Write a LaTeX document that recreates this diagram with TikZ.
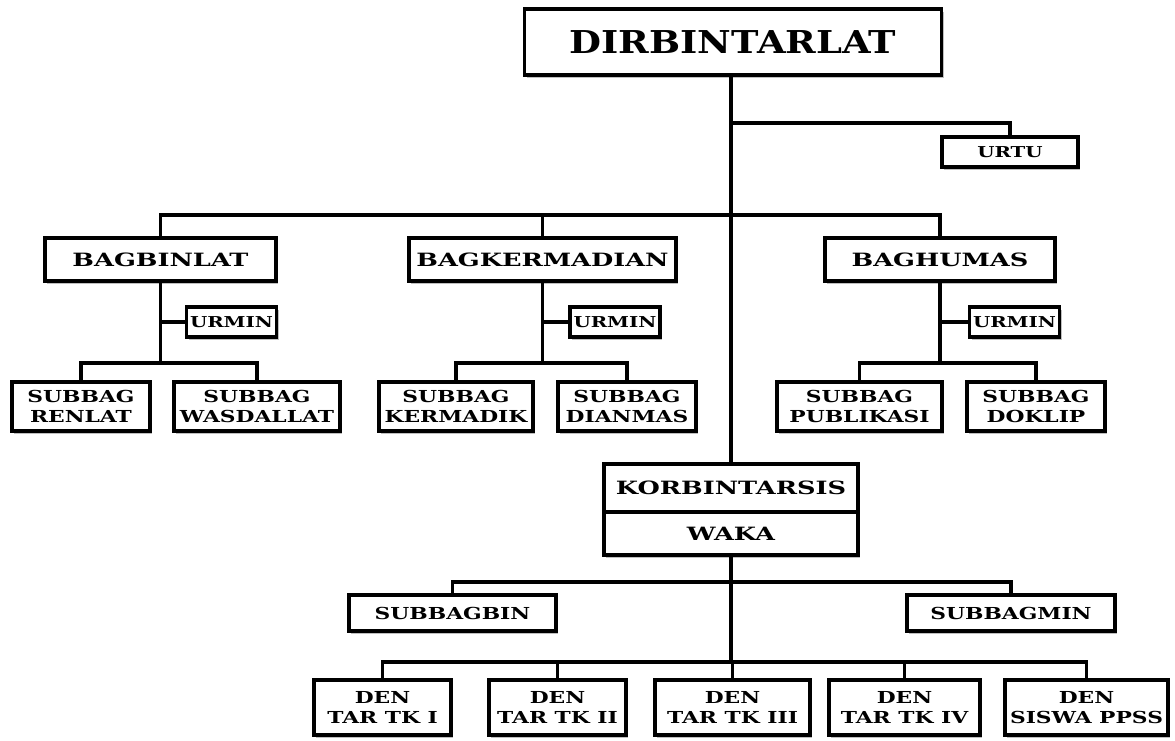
\documentclass[tikz,border=0pt]{standalone}
\usepackage{fontspec}
\setmainfont{DejaVu Serif}[FakeStretch=1.32]
\newfontfamily\widebig{DejaVu Serif}[FakeStretch=1.17]
\newfontfamily\widemid{DejaVu Serif}[FakeStretch=1.4]
\usetikzlibrary{shadows}
\tikzset{
  box/.style={draw, line width=3.8pt, fill=white, inner sep=0pt, align=center,
    font=\bfseries, drop shadow={shadow xshift=2pt, shadow yshift=-2.5pt, fill=black, opacity=0.25}},
  big/.style={font=\widebig\fontsize{31.5}{34}\selectfont\bfseries},
  mid/.style={font=\widemid\fontsize{18.3}{20}\selectfont\bfseries},
  sml/.style={font=\fontsize{16.5}{20}\selectfont\bfseries},
  tny/.style={font=\fontsize{15}{18}\selectfont\bfseries},
  link/.style={line width=3.8pt},
}
\begin{document}
\begin{tikzpicture}[x=1pt,y=-1pt]
\useasboundingbox (0,0) rectangle (1175,740);
% nodes
\node[box,big,minimum width=417pt,minimum height=66pt] (dir) at (733,42) {DIRBINTARLAT};
\node[box,tny,minimum width=136pt,minimum height=30pt] (urtu) at (1010,152) {URTU};

\node[box,mid,minimum width=231pt,minimum height=43pt] (bbin) at (160.5,259.5) {BAGBINLAT};
\node[box,mid,minimum width=267pt,minimum height=43pt] (bker) at (542.5,259.5) {BAGKERMADIAN};
\node[box,mid,minimum width=230pt,minimum height=43pt] (bhum) at (940,259.5) {BAGHUMAS};

\node[box,tny,minimum width=90pt,minimum height=30pt] (um1) at (231.5,322) {URMIN};
\node[box,tny,minimum width=90pt,minimum height=30pt] (um2) at (615,322) {URMIN};
\node[box,tny,minimum width=90pt,minimum height=30pt] (um3) at (1014.5,322) {URMIN};

\node[box,sml,minimum width=138pt,minimum height=49pt] (s1) at (81,406.5) {SUBBAG\\RENLAT};
\node[box,sml,minimum width=166pt,minimum height=49pt] (s2) at (257,406.5) {SUBBAG\\WASDALLAT};
\node[box,sml,minimum width=154pt,minimum height=49pt] (s3) at (456,406.5) {SUBBAG\\KERMADIK};
\node[box,sml,minimum width=138pt,minimum height=49pt] (s4) at (627,406.5) {SUBBAG\\DIANMAS};
\node[box,sml,minimum width=165pt,minimum height=49pt] (s5) at (859.5,406.5) {SUBBAG\\PUBLIKASI};
\node[box,sml,minimum width=138pt,minimum height=49pt] (s6) at (1036,406.5) {SUBBAG\\DOKLIP};

\node[box,mid,minimum width=254pt,minimum height=48pt] (korb) at (731,488) {KORBINTARSIS};
\node[box,mid,minimum width=254pt,minimum height=43pt] (waka) at (731,533.5) {WAKA};

\node[box,sml,minimum width=207pt,minimum height=36pt] (sbin) at (452.5,613) {SUBBAGBIN};
\node[box,sml,minimum width=208pt,minimum height=36pt] (smin) at (1011,613) {SUBBAGMIN};

\node[box,sml,minimum width=137pt,minimum height=55pt] (d1) at (382.5,707.5) {DEN\\TAR TK I};
\node[box,sml,minimum width=137pt,minimum height=55pt] (d2) at (557.5,707.5) {DEN\\TAR TK II};
\node[box,sml,minimum width=155pt,minimum height=55pt] (d3) at (732.5,707.5) {DEN\\TAR TK III};
\node[box,sml,minimum width=151pt,minimum height=55pt] (d4) at (904.5,707.5) {DEN\\TAR TK IV};
\node[box,sml,minimum width=163pt,minimum height=55pt] (d5) at (1086.5,707.5) {DEN\\SISWA PPSS};

% junctions
\coordinate (j0) at (731,123);
\coordinate (j1) at (731,215);
\coordinate (jb) at (160.5,363);
\coordinate (jk) at (542.5,363);
\coordinate (jh) at (940,363);
\coordinate (jw) at (731,582);
\coordinate (jd) at (731,662);

% connectors
\draw[link] (dir.south -| korb.north) -- (korb.north);
\draw[link] (j0) -| (urtu.north);
\draw[link] (bbin.north) |- (j1) -| (bhum.north);
\draw[link] (bker.north) -- (bker.north |- j1);
% bagbinlat
\draw[link] (bbin.south) -- (jb);
\draw[link] (um1.west) -- (um1.west -| bbin.south);
\draw[link] (s1.north) |- (jb) -| (s2.north);
% bagkermadian
\draw[link] (bker.south) -- (jk);
\draw[link] (um2.west) -- (um2.west -| bker.south);
\draw[link] (s3.north) |- (jk) -| (s4.north);
% baghumas
\draw[link] (bhum.south) -- (jh);
\draw[link] (um3.west) -- (um3.west -| bhum.south);
\draw[link] (s5.north) |- (jh) -| (s6.north);
% korbintarsis
\draw[link] (waka.south) -- (jd);
\draw[link] (sbin.north) |- (jw) -| (smin.north);
\draw[link] (d1.north) |- (jd) -| (d5.north);
\draw[link] (d2.north) -- (d2.north |- jd);
\draw[link] (d3.north) -- (d3.north |- jd);
\draw[link] (d4.north) -- (d4.north |- jd);
\end{tikzpicture}
\end{document}
